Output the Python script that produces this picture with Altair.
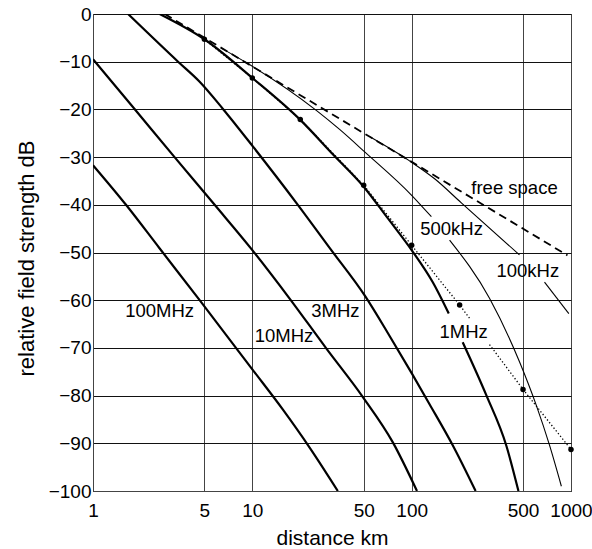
import altair as alt
import pandas as pd

FONT = "Liberation Sans, Arial, Helvetica, sans-serif"

# ---- data (distance km, relative field strength dB) ----
free_d = [2.82, 100, 950]
free_db = [0, -31, -50.6]

mhz100_d = [1, 1.62, 2.6, 4.67, 10, 15.6, 23, 34.4]
mhz100_db = [-31.7, -40.1, -49, -60, -74.5, -83, -91, -100]

mhz10_d = [1, 1.78, 3.25, 5.8, 10, 17.1, 29.1, 49.4, 76.2, 108]
mhz10_db = [-9.5, -19.5, -30, -40, -49.5, -59.6, -70.1, -80.3, -89.8, -100]

mhz3_d = [1.66, 3.42, 4.67, 6.54, 10.1, 19.3, 31.3, 50.7, 72.7, 100, 129.5, 181, 252]
mhz3_db = [0, -10, -14.2, -19.9, -27.8, -40, -49.5, -59, -67.5, -75.3, -81.8, -90.4, -100]

mhz1_a_d = [2.62, 5, 10, 20, 32, 50, 70, 100, 136, 171]
mhz1_a_db = [0, -5.3, -13.4, -22.2, -29.4, -36.2, -42.6, -49.5, -56.3, -62.8]
mhz1_b_d = [209, 294, 392, 468]
mhz1_b_db = [-68.8, -79.9, -90.4, -100]

khz500_a_d = [6.5, 9.6, 25.2, 35.3, 50.7, 100, 133]
khz500_a_db = [-7.3, -10.6, -20.2, -24.2, -28.9, -38, -42.5]
khz500_b_d = [173, 308, 475, 605, 733, 870]
khz500_b_db = [-47.4, -59.6, -72.9, -82, -90.4, -99]

khz100_a_d = [55, 97, 140, 205, 475]
khz100_a_db = [-25.8, -30.8, -34.6, -39.6, -50.5]
khz100_b_d = [682, 969]
khz100_b_db = [-56.2, -62.8]

dot_d = [5, 10, 20, 50, 100, 200, 500, 1000]
dot_db = [-5.3, -13.4, -22.1, -35.9, -48.5, -61, -78.7, -91.3]
dotted_a_d = [5, 10, 20, 50, 100, 200, 231]
dotted_a_db = [-5.3, -13.4, -22.1, -35.9, -48.5, -61, -63.8]
dotted_b_d = [308, 500, 1000]
dotted_b_db = [-69.3, -78.7, -91.3]

label_text = ["100MHz", "10MHz", "3MHz", "1MHz", "500kHz", "100kHz", "free space"]
label_d = [2.62, 15.8, 33.2, 212, 178, 536, 442]
label_db = [-63.5, -68.75, -63.5, -68.0, -46.4, -55.1, -37.8]

x_ticks = [1, 5, 10, 50, 100, 500, 1000]
y_ticks = list(range(-100, 1, 10))

# ---- build table ----
rows = []


def add(seg, style, ds, dbs):
    for d, v in zip(ds, dbs):
        rows.append({"d": d, "db": v, "seg": seg, "style": style})


add("free", "dashed", free_d, free_db)
add("100MHz", "thick", mhz100_d, mhz100_db)
add("10MHz", "thick", mhz10_d, mhz10_db)
add("3MHz", "thick", mhz3_d, mhz3_db)
add("1MHz-a", "thick", mhz1_a_d, mhz1_a_db)
add("1MHz-b", "thick", mhz1_b_d, mhz1_b_db)
add("500kHz-a", "thin", khz500_a_d, khz500_a_db)
add("500kHz-b", "thin", khz500_b_d, khz500_b_db)
add("100kHz-a", "thin", khz100_a_d, khz100_a_db)
add("100kHz-b", "thin", khz100_b_d, khz100_b_db)
add("dot-a", "dotted", dotted_a_d, dotted_a_db)
add("dot-b", "dotted", dotted_b_d, dotted_b_db)
df = pd.DataFrame(rows)
dots = pd.DataFrame({"d": dot_d, "db": dot_db})
labels = pd.DataFrame({"d": label_d, "db": label_db, "t": label_text})

xscale = alt.Scale(type="log", domain=[1, 1000], nice=False)
yscale = alt.Scale(domain=[-100, 0], nice=False)

xaxis = alt.Axis(values=x_ticks, format="d", ticks=False, grid=True, gridColor="#444",
                 gridWidth=1, domainColor="#444", labelFlush=False, labelOverlap=False,
                 labelFontSize=19, labelFont=FONT, labelColor="black", labelPadding=10,
                 title="distance km", titleFont=FONT, titleFontSize=21,
                 titleFontWeight="normal", titleColor="black",
                 titleX=239, titleY=53, titleBaseline="alphabetic")
yaxis = alt.Axis(values=y_ticks, ticks=False, grid=True, gridColor="#111", gridWidth=1,
                 domainColor="#444", labelOverlap=False, labelFontSize=19, labelFont=FONT,
                 labelColor="black", labelPadding=2,
                 title="relative field strength dB", titleFont=FONT, titleFontSize=22,
                 titleFontWeight="normal", titleColor="black",
                 titleX=-60, titleY=244, titleBaseline="alphabetic", titleAngle=270)

X = alt.X("d:Q", scale=xscale, axis=xaxis)
Y = alt.Y("db:Q", scale=yscale, axis=yaxis)
Xn = alt.X("d:Q", scale=xscale)
Yn = alt.Y("db:Q", scale=yscale)

base = alt.Chart(df)

grid_layer = alt.Chart(dots).mark_point(opacity=0).encode(x=X, y=Y)

thick = base.transform_filter(alt.datum.style == "thick").mark_line(
    color="black", strokeWidth=2.2, clip=True, interpolate="monotone").encode(x=Xn, y=Yn, detail="seg:N")
thin = base.transform_filter(alt.datum.style == "thin").mark_line(
    color="black", strokeWidth=1.1, clip=True, interpolate="monotone").encode(x=Xn, y=Yn, detail="seg:N")
dashed = base.transform_filter(alt.datum.style == "dashed").mark_line(
    color="black", strokeWidth=1.8, strokeDash=[8, 5], clip=True).encode(x=Xn, y=Yn, detail="seg:N")
dotted = base.transform_filter(alt.datum.style == "dotted").mark_line(
    color="black", strokeWidth=1.3, strokeDash=[1.3, 2.2], clip=True).encode(
    x=Xn, y=Yn, detail="seg:N")
dot_layer = alt.Chart(dots).mark_circle(color="black", size=30, opacity=1).encode(x=Xn, y=Yn)
text_layer = alt.Chart(labels).mark_text(
    align="center", baseline="alphabetic", fontSize=18.5, font=FONT, color="black"
).encode(x=Xn, y=Yn, text="t:N")

chart = alt.layer(grid_layer, thick, thin, dashed, dotted, dot_layer, text_layer).properties(
    width=478, height=477,
    autosize=alt.AutoSizeParams(type="none"),
    padding={"left": 93, "top": 14, "right": 21, "bottom": 58},
    background="white",
).configure_view(stroke="#444", strokeWidth=1)

chart.save("out.html", embed_options={"renderer": "svg", "actions": False})
